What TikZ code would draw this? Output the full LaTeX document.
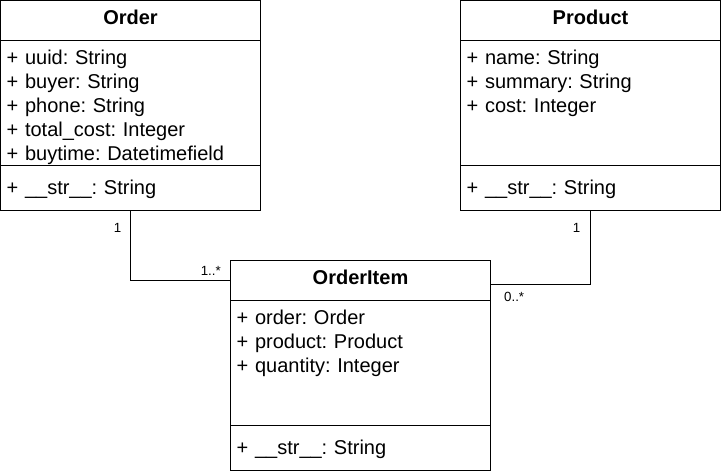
\documentclass[tikz,border=0pt]{standalone}
\usepackage{fontspec}
\setmainfont{Liberation Sans}
\usetikzlibrary{positioning}
\frenchspacing

\begin{document}
\begin{tikzpicture}[x=1pt, y=-1pt,
    part/.style={draw=black, line width=1pt, inner sep=0pt, outer sep=0pt, minimum width=260pt},
    cname/.style={anchor=base, inner sep=0pt, font=\bfseries\fontsize{20}{24}\selectfont},
    members/.style={anchor=base west, inner sep=0pt, text width=250pt, align=left, font=\fontsize{20}{24}\selectfont\frenchspacing},
    mult/.style={inner sep=0pt, font=\fontsize{13.3}{16}\selectfont}]
  \useasboundingbox (0,0) rectangle (721,474);

  % class boxes: name / attributes / methods
  \node[part, minimum height=40pt, anchor=north west] (order) at (0.5, 0.5) {};
  \node[part, minimum height=125pt, below=0pt of order] (order-attr) {};
  \node[part, minimum height=45pt, below=0pt of order-attr] (order-meth) {};

  \node[part, minimum height=40pt, anchor=north west] (product) at (460.5, 0.5) {};
  \node[part, minimum height=125pt, below=0pt of product] (product-attr) {};
  \node[part, minimum height=45pt, below=0pt of product-attr] (product-meth) {};

  \node[part, minimum height=40pt, anchor=north west] (item) at (230.5, 260.5) {};
  \node[part, minimum height=125pt, below=0pt of item] (item-attr) {};
  \node[part, minimum height=45pt, below=0pt of item-attr] (item-meth) {};

  % texts
  \node[cname] (order-name) at (130.5, 24) {Order};
  \node[members] (order-fields) at (6.5, 64) {+ uuid: String\\+ buyer: String\\+ phone: String\\+ total\_cost: Integer\\+ buytime: Datetimefield};
  \node[members] (order-ops) at (6.5, 194) {+ \_\_str\_\_: String};

  \node[cname] (product-name) at (590.5, 24) {Product};
  \node[members] (product-fields) at (466.5, 64) {+ name: String\\+ summary: String\\+ cost: Integer};
  \node[members] (product-ops) at (466.5, 194) {+ \_\_str\_\_: String};

  \node[cname] (item-name) at (360.5, 284) {OrderItem};
  \node[members] (item-fields) at (236.5, 324) {+ order: Order\\+ product: Product\\+ quantity: Integer};
  \node[members] (item-ops) at (236.5, 454) {+ \_\_str\_\_: String};

  % associations
  \draw[line width=1pt] (order-meth.south) |- (item.west);
  \draw[line width=1pt] (product-meth.south) |- ([yshift=-3.5pt]item.east);

  \node[mult, anchor=base east] (order-one) at (121.5, 232) {1};
  \node[mult, anchor=base east] (item-many) at (221, 275) {1..*};
  \node[mult, anchor=base east] (product-one) at (580.5, 232) {1};
  \node[mult, anchor=base west] (item-any) at (504, 301) {0..*};
\end{tikzpicture}
\end{document}
